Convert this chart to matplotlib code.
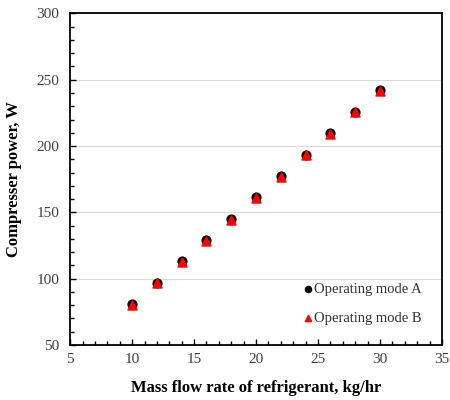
import numpy as np
import matplotlib.pyplot as plt
from matplotlib.ticker import MultipleLocator

plt.rcParams['font.family'] = ['Liberation Serif', 'DejaVu Serif']

# data
flow = [10, 12, 14, 16, 18, 20, 22, 24, 26, 28, 30]
power_a = [80.7, 97.0, 113.1, 129.2, 145.0, 161.4, 177.5, 193.5, 209.6, 226.0, 242.1]
power_b = [80.2, 96.5, 112.6, 128.7, 144.5, 160.9, 177.0, 193.0, 209.1, 225.5, 241.6]

fig = plt.figure(figsize=(4.5, 4.0), dpi=100)
ax = fig.add_axes([0.156, 0.1375, 0.826, 0.829])

ax.scatter(flow, power_a, marker='o', s=40, color='black', zorder=3, label='Operating mode A')
ax.scatter(flow, power_b, marker='^', s=42, color='red', zorder=4, label='Operating mode B')

ax.set_xlim(5, 35)
ax.set_ylim(50, 300)
ax.xaxis.set_major_locator(MultipleLocator(5))
ax.xaxis.set_minor_locator(MultipleLocator(1))
ax.yaxis.set_major_locator(MultipleLocator(50))
ax.yaxis.set_minor_locator(MultipleLocator(10))
ax.grid(axis='y', which='major', color='#d9d9d9', lw=0.8)
ax.set_axisbelow(True)
ax.tick_params(which='both', direction='in', color='black', labelsize=11,
               labelcolor='#404040', top=False, right=False)
ax.tick_params(which='major', length=4, width=1)
ax.tick_params(which='minor', length=3, width=1)
ax.tick_params(axis='y', pad=8)
ax.tick_params(axis='x', pad=6)
for s in ax.spines.values():
    s.set_linewidth(1.3)

ax.set_xlabel('Mass flow rate of refrigerant, kg/hr', fontsize=12, fontweight='bold', labelpad=10)
ax.set_ylabel('Compresser power, W', fontsize=12, fontweight='bold', labelpad=10)

ax.legend(loc='lower right', frameon=False, fontsize=10.5, handletextpad=-0.2,
          labelspacing=1.05, handlelength=1.2, markerscale=0.7,
          borderaxespad=1.0, labelcolor='#333333')

fig.savefig('out.png', dpi=100)
